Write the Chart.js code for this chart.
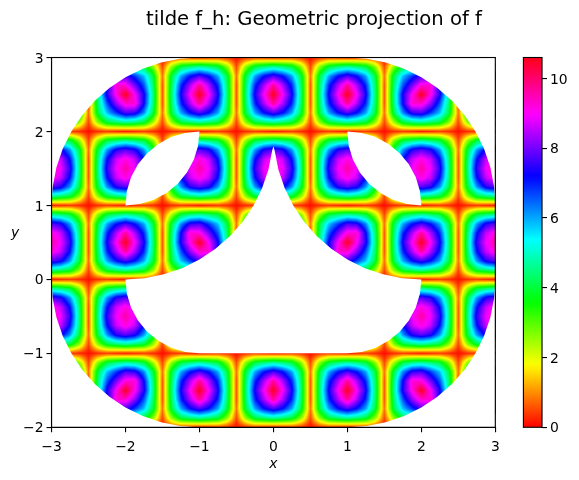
<!DOCTYPE html>
<html><head><meta charset="utf-8">
<style>html,body{margin:0;padding:0;width:579px;height:480px;overflow:hidden;background:#fff}
canvas{position:absolute;left:0;top:0}</style>
<script src="https://cdn.jsdelivr.net/npm/chart.js@4"></script></head>
<body><canvas id="main" width="628" height="480"></canvas><canvas id="cbar" width="579" height="480"></canvas>
<script>
const titleText = 'tilde f_h: Geometric projection of f';
const xTicks = [-3,-2,-1,0,1,2,3];
const yTicks = [-2,-1,0,1,2,3];
const cbarTicks = [0,2,4,6,8,10];
const vMax = 10.6;
const nodeStep = 0.125;
// colour map stops
const cmT = [0,.15873,.174603,.333333,.349206,.507937,.666667,.68254,.84127,.857143,1];
const cmR = [1,1,.96875,.03125,0,0,0,.03125,.96875,1,1];
const cmG = [0,.9375,1,1,1,1,.0625,0,0,0,0];
const cmB = [0,0,0,0,.0625,1,1,1,1,.9375,.09375];
// field values at nodes: rows y=3 down to y=-2, columns x=-3 to x=3, every 0.125
const fieldRows = [
[.2,.3,.4,.3,.1,.3,.4,.3,.2,.3,.4,.3,.1,.3,.4,.3,.2,.3,.4,.3,.1,.3,.4,.3,.2,.3,.4,.3,.1,.3,.4,.3,.2,.3,.4,.3,.1,.3,.4,.3,.2,.3,.4,.3,.1,.3,.4,.3,.2],
[4.7,4.4,4,2.6,.5,2.4,4,4.5,4.7,4.4,4,2.6,.5,2.6,4,4.4,4.7,4.4,4,2.6,.5,2.6,4,4.4,4.7,4.4,4,2.6,.5,2.6,4,4.4,4.7,4.4,4,2.6,.5,2.6,4,4.4,4.7,4.5,4,2.4,.5,2.6,4,4.4,4.7],
[7.8,7.4,6.1,4,.8,4,6.2,7.5,7.7,6.8,5.8,4,.8,4,6,7.1,7.7,7.1,6,4,.8,4,6,7.1,7.7,7.1,6,4,.8,4,6,7.1,7.7,7.1,6,4,.8,4,5.8,6.8,7.7,7.5,6.2,4,.8,4,6.1,7.4,7.8],
[9.2,8.6,7.1,4.4,.6,4.4,7.2,9.3,9.2,8,6.6,4.3,.6,4.3,6.9,8.4,9.7,8.4,6.9,4.3,.6,4.3,6.9,8.4,9.7,8.4,6.9,4.3,.6,4.3,6.9,8.4,9.7,8.4,6.9,4.3,.6,4.3,6.6,8,9.2,9.3,7.2,4.4,.6,4.4,7.1,8.6,9.2],
[9.6,8.9,7.5,4.5,.6,4.5,7.4,9.1,10.6,9,7.3,4.5,.6,4.4,7.3,9,10.6,9,7.3,4.4,.6,4.4,7.3,9,10.6,9,7.3,4.4,.6,4.4,7.3,9,10.6,9,7.3,4.4,.6,4.5,7.3,9,10.6,9.1,7.4,4.5,.6,4.5,7.5,8.9,9.6],
[9.2,8.6,7.1,4.4,.6,4.3,6.6,8.2,9.3,9.3,7.2,4.4,.6,4.3,6.9,8.4,9.7,8.4,6.9,4.3,.6,4.3,6.9,8.4,9.7,8.4,6.9,4.3,.6,4.3,6.9,8.4,9.7,8.4,6.9,4.3,.6,4.4,7.2,9.3,9.3,8.2,6.6,4.3,.6,4.4,7.1,8.6,9.2],
[7.8,7.4,6.1,4,.8,4,5.8,6.8,7.7,7.5,6.2,4,.8,4,6,7.1,7.7,7.1,6,4,.8,4,6,7.1,7.7,7.1,6,4,.8,4,6,7.1,7.7,7.1,6,4,.8,4,6.2,7.5,7.7,6.8,5.8,4,.8,4,6.1,7.4,7.8],
[4.7,4.4,4,2.6,.5,2.6,4,4.4,4.7,4.5,4,2.4,.5,2.6,4,4.4,4.7,4.4,4,2.6,.5,2.6,4,4.4,4.7,4.4,4,2.6,.5,2.6,4,4.4,4.7,4.4,4,2.6,.5,2.4,4,4.5,4.7,4.4,4,2.6,.5,2.6,4,4.4,4.7],
[.2,.3,.4,.3,.1,.3,.4,.3,.2,.3,.4,.3,.1,.3,.4,.3,.2,.3,.4,.3,.1,.3,.4,.3,.2,.3,.4,.3,.1,.3,.4,.3,.2,.3,.4,.3,.1,.3,.4,.3,.2,.3,.4,.3,.1,.3,.4,.3,.2],
[4.7,4.4,4,2.6,.5,2.6,4,4.4,4.7,4.4,4,2.6,.5,2.6,4,4.4,4.7,4.4,4,2.6,.5,2.6,4,4.4,4.7,4.4,4,2.6,.5,2.6,4,4.4,4.7,4.4,4,2.6,.5,2.6,4,4.4,4.7,4.4,4,2.6,.5,2.6,4,4.4,4.7],
[7.8,7.4,6.1,4,.8,4,6.1,7.4,7.8,7.4,6.1,4,.8,4,6.1,7.4,7.8,7.4,6.1,4,.8,4,6.1,7.4,7.8,7.4,6.1,4,.8,4,6.1,7.4,7.8,7.4,6.1,4,.8,4,6.1,7.4,7.8,7.4,6.1,4,.8,4,6.1,7.4,7.8],
[9.2,8.6,7.1,4.4,.6,4.4,7.1,8.6,9.2,8.6,7.1,4.4,.6,4.4,7.1,8.6,9.2,8.6,7.1,4.4,.6,4.4,7.1,8.6,9.2,8.6,7.1,4.4,.6,4.4,7.1,8.6,9.2,8.6,7.1,4.4,.6,4.4,7.1,8.6,9.2,8.6,7.1,4.4,.6,4.4,7.1,8.6,9.2],
[9.6,8.9,7.5,4.5,.6,4.5,7.5,8.9,9.6,8.9,7.5,4.5,.6,4.5,7.5,8.9,9.6,8.9,7.5,4.5,.6,4.5,7.5,8.9,9.6,8.9,7.5,4.5,.6,4.5,7.5,8.9,9.6,8.9,7.5,4.5,.6,4.5,7.5,8.9,9.6,8.9,7.5,4.5,.6,4.5,7.5,8.9,9.6],
[9.2,8.6,7.1,4.4,.6,4.4,7.1,8.6,9.2,8.6,7.1,4.4,.6,4.4,7.1,8.6,9.2,8.6,7.1,4.4,.6,4.4,7.1,8.6,9.2,8.6,7.1,4.4,.6,4.4,7.1,8.6,9.2,8.6,7.1,4.4,.6,4.4,7.1,8.6,9.2,8.6,7.1,4.4,.6,4.4,7.1,8.6,9.2],
[7.8,7.4,6.1,4,.8,4,6.1,7.4,7.8,7.4,6.1,4,.8,4,6.1,7.4,7.8,7.4,6.1,4,.8,4,6.1,7.4,7.8,7.4,6.1,4,.8,4,6.1,7.4,7.8,7.4,6.1,4,.8,4,6.1,7.4,7.8,7.4,6.1,4,.8,4,6.1,7.4,7.8],
[4.7,4.4,4,2.6,.5,2.6,4,4.4,4.7,4.4,4,2.6,.5,2.6,4,4.4,4.7,4.4,4,2.6,.5,2.6,4,4.4,4.7,4.4,4,2.6,.5,2.6,4,4.4,4.7,4.4,4,2.6,.5,2.6,4,4.4,4.7,4.4,4,2.6,.5,2.6,4,4.4,4.7],
[.2,.3,.4,.3,.1,.3,.4,.3,.2,.3,.4,.3,.1,.3,.4,.3,.2,.3,.4,.3,.1,.3,.4,.3,.2,.3,.4,.3,.1,.3,.4,.3,.2,.3,.4,.3,.1,.3,.4,.3,.2,.3,.4,.3,.1,.3,.4,.3,.2],
[4.7,4.4,4,2.6,.5,2.6,4,4.4,4.7,4.4,4,2.6,.5,2.4,4,4.5,4.7,4.4,4,2.6,.5,2.6,4,4.4,4.7,4.4,4,2.6,.5,2.6,4,4.4,4.7,4.5,4,2.4,.5,2.6,4,4.4,4.7,4.4,4,2.6,.5,2.6,4,4.4,4.7],
[7.8,7.4,6.1,4,.8,4,6,7.1,7.7,7.1,6,4,.8,4,6.2,7.5,7.7,6.8,5.8,4,.8,4,6,7.1,7.7,7.1,6,4,.8,4,5.8,6.8,7.7,7.5,6.2,4,.8,4,6,7.1,7.7,7.1,6,4,.8,4,6.1,7.4,7.8],
[9.2,8.6,7.1,4.4,.6,4.3,6.9,8.4,9.7,8.4,6.9,4.3,.6,4.4,7.2,9.3,9.2,8,6.6,4.3,.6,4.3,6.9,8.4,9.7,8.4,6.9,4.3,.6,4.3,6.6,8,9.2,9.3,7.2,4.4,.6,4.3,6.9,8.4,9.7,8.4,6.9,4.3,.6,4.4,7.1,8.6,9.2],
[9.6,8.9,7.5,4.5,.6,4.4,7.3,9,10.6,9,7.3,4.4,.6,4.5,7.4,9.1,10.6,9,7.3,4.5,.6,4.4,7.3,9,10.6,9,7.3,4.4,.6,4.5,7.3,9,10.6,9.1,7.4,4.5,.6,4.4,7.3,9,10.6,9,7.3,4.4,.6,4.5,7.5,8.9,9.6],
[9.2,8.6,7.1,4.4,.6,4.3,6.9,8.4,9.7,8.4,6.9,4.3,.6,4.3,6.6,8.2,9.3,9.3,7.2,4.4,.6,4.3,6.9,8.4,9.7,8.4,6.9,4.3,.6,4.4,7.2,9.3,9.3,8.2,6.6,4.3,.6,4.3,6.9,8.4,9.7,8.4,6.9,4.3,.6,4.4,7.1,8.6,9.2],
[7.8,7.4,6.1,4,.8,4,6,7.1,7.7,7.1,6,4,.8,4,5.8,6.8,7.7,7.5,6.2,4,.8,4,6,7.1,7.7,7.1,6,4,.8,4,6.2,7.5,7.7,6.8,5.8,4,.8,4,6,7.1,7.7,7.1,6,4,.8,4,6.1,7.4,7.8],
[4.7,4.4,4,2.6,.5,2.6,4,4.4,4.7,4.4,4,2.6,.5,2.6,4,4.4,4.7,4.5,4,2.4,.5,2.6,4,4.4,4.7,4.4,4,2.6,.5,2.4,4,4.5,4.7,4.4,4,2.6,.5,2.6,4,4.4,4.7,4.4,4,2.6,.5,2.6,4,4.4,4.7],
[.2,.3,.4,.3,.1,.3,.4,.3,.2,.3,.4,.3,.1,.3,.4,.3,.2,.3,.4,.3,.1,.3,.4,.3,.2,.3,.4,.3,.1,.3,.4,.3,.2,.3,.4,.3,.1,.3,.4,.3,.2,.3,.4,.3,.1,.3,.4,.3,.2],
[4.7,4.4,4,2.6,.5,2.6,4,4.4,4.7,4.4,4,2.6,.5,2.6,4,4.4,4.7,4.4,4,2.6,.5,2.6,4,4.4,4.7,4.4,4,2.6,.5,2.6,4,4.4,4.7,4.4,4,2.6,.5,2.6,4,4.4,4.7,4.4,4,2.6,.5,2.6,4,4.4,4.7],
[7.8,7.4,6.1,4,.8,4,6.1,7.4,7.8,7.4,6.1,4,.8,4,6.1,7.4,7.8,7.4,6.1,4,.8,4,6.1,7.4,7.8,7.4,6.1,4,.8,4,6.1,7.4,7.8,7.4,6.1,4,.8,4,6.1,7.4,7.8,7.4,6.1,4,.8,4,6.1,7.4,7.8],
[9.2,8.6,7.1,4.4,.6,4.4,7.1,8.6,9.2,8.6,7.1,4.4,.6,4.4,7.1,8.6,9.2,8.6,7.1,4.4,.6,4.4,7.1,8.6,9.2,8.6,7.1,4.4,.6,4.4,7.1,8.6,9.2,8.6,7.1,4.4,.6,4.4,7.1,8.6,9.2,8.6,7.1,4.4,.6,4.4,7.1,8.6,9.2],
[9.6,8.9,7.5,4.5,.6,4.5,7.5,8.9,9.6,8.9,7.5,4.5,.6,4.5,7.5,8.9,9.6,8.9,7.5,4.5,.6,4.5,7.5,8.9,9.6,8.9,7.5,4.5,.6,4.5,7.5,8.9,9.6,8.9,7.5,4.5,.6,4.5,7.5,8.9,9.6,8.9,7.5,4.5,.6,4.5,7.5,8.9,9.6],
[9.2,8.6,7.1,4.4,.6,4.4,7.1,8.6,9.2,8.6,7.1,4.4,.6,4.4,7.1,8.6,9.2,8.6,7.1,4.4,.6,4.4,7.1,8.6,9.2,8.6,7.1,4.4,.6,4.4,7.1,8.6,9.2,8.6,7.1,4.4,.6,4.4,7.1,8.6,9.2,8.6,7.1,4.4,.6,4.4,7.1,8.6,9.2],
[7.8,7.4,6.1,4,.8,4,6.1,7.4,7.8,7.4,6.1,4,.8,4,6.1,7.4,7.8,7.4,6.1,4,.8,4,6.1,7.4,7.8,7.4,6.1,4,.8,4,6.1,7.4,7.8,7.4,6.1,4,.8,4,6.1,7.4,7.8,7.4,6.1,4,.8,4,6.1,7.4,7.8],
[4.7,4.4,4,2.6,.5,2.6,4,4.4,4.7,4.4,4,2.6,.5,2.6,4,4.4,4.7,4.4,4,2.6,.5,2.6,4,4.4,4.7,4.4,4,2.6,.5,2.6,4,4.4,4.7,4.4,4,2.6,.5,2.6,4,4.4,4.7,4.4,4,2.6,.5,2.6,4,4.4,4.7],
[.2,.3,.4,.3,.1,.3,.4,.3,.2,.3,.4,.3,.1,.3,.4,.3,.2,.3,.4,.3,.1,.3,.4,.3,.2,.3,.4,.3,.1,.3,.4,.3,.2,.3,.4,.3,.1,.3,.4,.3,.2,.3,.4,.3,.1,.3,.4,.3,.2],
[4.7,4.4,4,2.6,.5,2.6,4,4.4,4.7,4.5,4,2.4,.5,2.6,4,4.4,4.7,4.4,4,2.6,.5,2.6,4,4.4,4.7,4.4,4,2.6,.5,2.6,4,4.4,4.7,4.4,4,2.6,.5,2.4,4,4.5,4.7,4.4,4,2.6,.5,2.6,4,4.4,4.7],
[7.8,7.4,6.1,4,.8,4,5.8,6.8,7.7,7.5,6.2,4,.8,4,6,7.1,7.7,7.1,6,4,.8,4,6,7.1,7.7,7.1,6,4,.8,4,6,7.1,7.7,7.1,6,4,.8,4,6.2,7.5,7.7,6.8,5.8,4,.8,4,6.1,7.4,7.8],
[9.2,8.6,7.1,4.4,.6,4.3,6.6,8,9.2,9.3,7.2,4.4,.6,4.3,6.9,8.4,9.7,8.4,6.9,4.3,.6,4.3,6.9,8.4,9.7,8.4,6.9,4.3,.6,4.3,6.9,8.4,9.7,8.4,6.9,4.3,.6,4.4,7.2,9.3,9.2,8,6.6,4.3,.6,4.4,7.1,8.6,9.2],
[9.6,8.9,7.5,4.5,.6,4.5,7.3,9,10.6,9.1,7.4,4.5,.6,4.4,7.3,9,10.6,9,7.3,4.4,.6,4.4,7.3,9,10.6,9,7.3,4.4,.6,4.4,7.3,9,10.6,9,7.3,4.4,.6,4.5,7.4,9.1,10.6,9,7.3,4.5,.6,4.5,7.5,8.9,9.6],
[9.2,8.6,7.1,4.4,.6,4.4,7.2,9.3,9.3,8.2,6.6,4.3,.6,4.3,6.9,8.4,9.7,8.4,6.9,4.3,.6,4.3,6.9,8.4,9.7,8.4,6.9,4.3,.6,4.3,6.9,8.4,9.7,8.4,6.9,4.3,.6,4.3,6.6,8.2,9.3,9.3,7.2,4.4,.6,4.4,7.1,8.6,9.2],
[7.8,7.4,6.1,4,.8,4,6.2,7.5,7.7,6.8,5.8,4,.8,4,6,7.1,7.7,7.1,6,4,.8,4,6,7.1,7.7,7.1,6,4,.8,4,6,7.1,7.7,7.1,6,4,.8,4,5.8,6.8,7.7,7.5,6.2,4,.8,4,6.1,7.4,7.8],
[4.7,4.4,4,2.6,.5,2.4,4,4.5,4.7,4.4,4,2.6,.5,2.6,4,4.4,4.7,4.4,4,2.6,.5,2.6,4,4.4,4.7,4.4,4,2.6,.5,2.6,4,4.4,4.7,4.4,4,2.6,.5,2.6,4,4.4,4.7,4.5,4,2.4,.5,2.6,4,4.4,4.7],
[.2,.3,.4,.3,.1,.3,.4,.3,.2,.3,.4,.3,.1,.3,.4,.3,.2,.3,.4,.3,.1,.3,.4,.3,.2,.3,.4,.3,.1,.3,.4,.3,.2,.3,.4,.3,.1,.3,.4,.3,.2,.3,.4,.3,.1,.3,.4,.3,.2]
];
// white regions outside the domain, in data coordinates
const cornerTL = [[-3,3],[-3,1],[-2.983,1.261],[-2.932,1.518],[-2.848,1.765],[-2.732,2],[-2.587,2.217],[-2.414,2.414],[-2.217,2.587],[-2,2.732],[-1.765,2.848],[-1.518,2.932],[-1.261,2.983],[-1,3]];
const cornerTR = [[3,3],[3,1],[2.983,1.261],[2.932,1.518],[2.848,1.765],[2.732,2],[2.587,2.217],[2.414,2.414],[2.217,2.587],[2,2.732],[1.765,2.848],[1.518,2.932],[1.261,2.983],[1,3]];
const cornerBL = [[-3,-2],[-3,0],[-2.983,-.261],[-2.932,-.518],[-2.848,-.765],[-2.732,-1],[-2.587,-1.217],[-2.414,-1.414],[-2.217,-1.587],[-2,-1.732],[-1.765,-1.848],[-1.518,-1.932],[-1.261,-1.983],[-1,-2]];
const cornerBR = [[3,-2],[3,0],[2.983,-.261],[2.932,-.518],[2.848,-.765],[2.732,-1],[2.587,-1.217],[2.414,-1.414],[2.217,-1.587],[2,-1.732],[1.765,-1.848],[1.518,-1.932],[1.261,-1.983],[1,-2]];
const lensLeft = [[-2,1],[-1.981,1.195],[-1.924,1.383],[-1.831,1.556],[-1.707,1.707],[-1.556,1.831],[-1.383,1.924],[-1.195,1.981],[-1,2],[-1.019,1.805],[-1.076,1.617],[-1.169,1.444],[-1.293,1.293],[-1.444,1.169],[-1.617,1.076],[-1.805,1.019]];
const lensRight = [[2,1],[1.981,1.195],[1.924,1.383],[1.831,1.556],[1.707,1.707],[1.556,1.831],[1.383,1.924],[1.195,1.981],[1,2],[1.019,1.805],[1.076,1.617],[1.169,1.444],[1.293,1.293],[1.444,1.169],[1.617,1.076],[1.805,1.019]];
const centreHole = [[0,1.8],[-.017,1.739],[-.068,1.482],[-.152,1.235],[-.268,1],[-.413,.783],[-.586,.586],[-.783,.413],[-1,.268],[-1.235,.152],[-1.482,.068],[-1.739,.017],[-2,0],[-1.981,-.195],[-1.924,-.383],[-1.831,-.556],[-1.707,-.707],[-1.556,-.831],[-1.383,-.924],[-1.195,-.981],[-1,-1],[1,-1],[1.195,-.981],[1.383,-.924],[1.556,-.831],[1.707,-.707],[1.831,-.556],[1.924,-.383],[1.981,-.195],[2,0],[1.739,.017],[1.482,.068],[1.235,.152],[1,.268],[.783,.413],[.586,.586],[.413,.783],[.268,1],[.152,1.235],[.068,1.482],[.017,1.739]];
const masks = [cornerTL,cornerTR,cornerBL,cornerBR,lensLeft,lensRight,centreHole];

Chart.defaults.font.family = '"DejaVu Sans"';
Chart.defaults.font.size = 13.9;
Chart.defaults.color = '#000';

function cmap(v){
  const t = Math.max(0,Math.min(1,v/vMax));
  let k = 0; while(k < cmT.length-2 && t > cmT[k+1]) k++;
  const f = (t-cmT[k])/(cmT[k+1]-cmT[k]);
  const m = a => Math.round(255*(a[k]+(a[k+1]-a[k])*f));
  return [m(cmR),m(cmG),m(cmB)];
}
const css = c => `rgb(${c[0]},${c[1]},${c[2]})`;
const fieldPoints = [];
fieldRows.forEach((row,j)=>row.forEach((v,i)=>fieldPoints.push({x:xTicks[0]+i*nodeStep,y:yTicks[yTicks.length-1]-j*nodeStep,v})));

const spines = {id:'spines',afterDraw(ch){
  const a=ch.chartArea,c=ch.ctx;c.save();c.strokeStyle='#000';c.lineWidth=1.1;
  c.strokeRect(a.left,a.top,a.right-a.left,a.bottom-a.top);c.restore();}};
const heatIndex = masks.length;
const shading = {id:'shading',afterDatasetDraw(ch,args){
  if(args.index!==heatIndex) return;
  const a=ch.chartArea,sx=ch.scales.x,sy=ch.scales.y;
  const L=Math.floor(a.left),T=Math.floor(a.top),W=Math.ceil(a.right)-L,H=Math.ceil(a.bottom)-T;
  const img=ch.ctx.createImageData(W,H),d=img.data;
  const nr=fieldRows.length,nc=fieldRows[0].length;
  for(let py=0;py<H;py++){
    const gy=(yTicks[yTicks.length-1]-sy.getValueForPixel(T+py+.5))/nodeStep;
    const j=Math.max(0,Math.min(nr-2,Math.floor(gy))),fy=Math.max(0,Math.min(1,gy-j));
    for(let px=0;px<W;px++){
      const gx=(sx.getValueForPixel(L+px+.5)-xTicks[0])/nodeStep;
      const i=Math.max(0,Math.min(nc-2,Math.floor(gx))),fx=Math.max(0,Math.min(1,gx-i));
      const v=(fieldRows[j][i]*(1-fx)+fieldRows[j][i+1]*fx)*(1-fy)+(fieldRows[j+1][i]*(1-fx)+fieldRows[j+1][i+1]*fx)*fy;
      const c=cmap(v),o=4*(py*W+px);
      d[o]=c[0];d[o+1]=c[1];d[o+2]=c[2];d[o+3]=255;
    }
  }
  ch.ctx.putImageData(img,L,T);
}};
const yLabel = {id:'yLabel',afterDraw(ch){
  const c=ch.ctx;c.save();c.font='italic 13.9px "DejaVu Sans"';c.fillStyle='#000';c.textAlign='center';c.textBaseline='middle';
  c.fillText('y',15,233);c.restore();}};
const minus = v => String(v).replace('-','\u2212');
const tickGrid = {drawOnChartArea:false,drawTicks:true,tickLength:5,tickColor:'#000',lineWidth:1.1};

new Chart(document.getElementById('main'),{
  type:'scatter',
  data:{datasets:[
    ...masks.map(m=>({data:m.map(p=>({x:p[0],y:p[1]})),showLine:true,tension:0,fill:'shape',backgroundColor:'#fff',borderWidth:0,borderColor:'#fff',pointRadius:0})),
    {data:fieldPoints,pointStyle:'rect',pointRadius:6.6,borderWidth:0,pointBorderWidth:0,pointBackgroundColor:fieldPoints.map(p=>css(cmap(p.v)))}
  ]},
  plugins:[shading,spines,yLabel],
  options:{
    responsive:false,animation:false,devicePixelRatio:1,events:[],
    layout:{padding:0},
    plugins:{legend:{display:false},tooltip:{enabled:false},
      title:{display:true,text:titleText,fullSize:true,align:'center',color:'#000',font:{size:19.6,weight:'normal'},padding:{top:8,bottom:26}}},
    scales:{
      x:{type:'linear',min:-3,max:3,afterBuildTicks(s){s.ticks=xTicks.map(value=>({value}));},afterFit(s){s.height=52.7;},
        grid:tickGrid,border:{color:'#000',width:1.1,z:1},ticks:{padding:7,maxRotation:0,callback:minus},
        title:{display:true,text:'x',color:'#000',font:{style:'italic',size:13.9},padding:{top:0,bottom:7}}},
      y:{type:'linear',min:-2,max:3,afterBuildTicks(s){s.ticks=yTicks.map(value=>({value}));},afterFit(s){s.width=51.5;},
        grid:tickGrid,border:{color:'#000',width:1.1,z:1},ticks:{padding:3,labelOffset:1.5,callback:minus}},
      rightGap:{type:'linear',position:'right',grid:{display:false},border:{display:false},ticks:{display:false},afterFit(s){s.width=132.7;}}
    }
  }
});

new Chart(document.getElementById('cbar'),{
  type:'bar',
  data:{labels:[''],datasets:[{data:[[0,vMax]],barPercentage:1,categoryPercentage:1,
    backgroundColor(ctx){
      const ch=ctx.chart,y=ch.scales.y;
      if(!ch.chartArea||!y) return '#f00';
      const g=ch.ctx.createLinearGradient(0,y.getPixelForValue(0),0,y.getPixelForValue(vMax));
      cmT.forEach(t=>g.addColorStop(t,css(cmap(t*vMax))));
      return g;
    }}]},
  plugins:[spines],
  options:{
    responsive:false,animation:false,devicePixelRatio:1,events:[],
    layout:{padding:{left:523.4,top:57.5,right:0,bottom:52.7}},
    plugins:{legend:{display:false},tooltip:{enabled:false}},
    scales:{
      x:{display:false},
      y:{position:'right',min:0,max:vMax,afterBuildTicks(s){s.ticks=cbarTicks.map(value=>({value}));},afterFit(s){s.width=37;},
        grid:tickGrid,border:{color:'#000',width:1.1},ticks:{padding:3,labelOffset:1.5,callback:minus}}
    }
  }
});
</script></body></html>
